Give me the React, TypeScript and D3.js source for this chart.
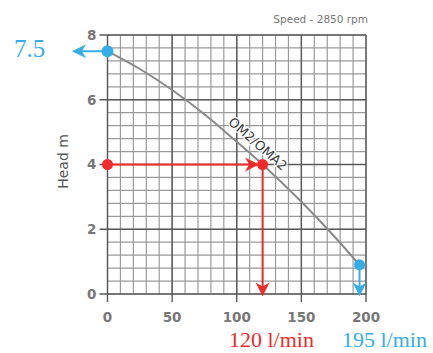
import * as d3 from "d3";
import React from 'react'

// pump curve OM2/OMA2
const flow = [0, 25, 50, 75, 100, 120, 150, 175, 195]
const head = [7.5, 6.95, 6.3, 5.55, 4.7, 4.0, 2.85, 1.8, 0.9]
const xTicks = [0, 50, 100, 150, 200]
const yTicks = [0, 2, 4, 6, 8]
const xMinor = d3.range(0, 201, 10)
const yMinor = d3.range(0, 8.01, 0.4)
const duty: [number, number] = [120, 4]
const shutoff: [number, number] = [0, 7.5]
const maxFlow: [number, number] = [195, 0.9]
const curveName = "OM2/OMA2"
const speedLabel = "Speed - 2850 rpm"
const yTitle = "Head m"
const dutyLabel = "120 l/min"
const maxLabel = "195 l/min"
const shutoffLabel = "7.5"

const RED = "#ef2b2b"
const BLUE = "#35aee8"
const GRID = "#9a9a9a"
const MAJOR = "#5a5a5a"
const TXT = "#777"

const App: React.FC = () => {
  const W = 433, H = 353
  const x = d3.scaleLinear([0, 200], [107.5, 366])
  const y = d3.scaleLinear([0, 8], [294, 35])

  const pts: [number, number][] = flow.map((f, i) => [f, head[i]])
  const line = d3.line<[number, number]>()
    .x(d => x(d[0]))
    .y(d => y(d[1]))
    .curve(d3.curveNatural)

  // label along the curve
  const lx = 110
  const interp = d3.scaleLinear(flow, head)
  const ang = Math.atan2(y(interp(lx + 8)) - y(interp(lx - 8)), x(lx + 8) - x(lx - 8)) * 180 / Math.PI

  const serif = "'Liberation Serif', 'Times New Roman', serif"
  const sans = "'DejaVu Sans', Verdana, sans-serif"

  return (
    <svg width={W} height={H} style={{ position: 'absolute', left: 0, top: 0, background: '#fff' }}>
      <defs>
        <marker id="arR" viewBox="0 0 10 10" refX="9" refY="5" markerWidth="7" markerHeight="7" orient="auto">
          <path d="M0,0 L10,5 L0,10 L3,5 z" fill={RED} />
        </marker>
        <marker id="arB" viewBox="0 0 10 10" refX="9" refY="5" markerWidth="7" markerHeight="7" orient="auto">
          <path d="M0,0 L10,5 L0,10 L3,5 z" fill={BLUE} />
        </marker>
      </defs>

      {/* minor grid */}
      {xMinor.map(v => (
        <line key={'xm' + v} x1={x(v)} x2={x(v)} y1={y(0)} y2={y(8)} stroke={GRID} strokeWidth={1.2} />
      ))}
      {yMinor.map(v => (
        <line key={'ym' + v} x1={x(0)} x2={x(200)} y1={y(v)} y2={y(v)} stroke={GRID} strokeWidth={1.2} />
      ))}
      {/* major grid + ticks */}
      {xTicks.map(v => (
        <line key={'xM' + v} x1={x(v)} x2={x(v)} y1={y(0) + 8} y2={y(8)} stroke={MAJOR} strokeWidth={1.4} />
      ))}
      {yTicks.map(v => (
        <line key={'yM' + v} x1={x(0) - 8} x2={x(200)} y1={y(v)} y2={y(v)} stroke={MAJOR} strokeWidth={1.4} />
      ))}

      {/* tick labels */}
      {xTicks.map(v => (
        <text key={'xl' + v} x={x(v)} y={322} textAnchor="middle" fontFamily={sans} fontWeight="bold" fontSize={13.5} fill={TXT}>{v}</text>
      ))}
      {yTicks.map(v => (
        <text key={'yl' + v} x={x(0) - 11} y={y(v)} dy="0.36em" textAnchor="end" fontFamily={sans} fontWeight="bold" fontSize={13.5} fill={TXT}>{v}</text>
      ))}
      <text transform={`translate(68,161.5) rotate(-90)`} textAnchor="middle" fontFamily={sans} fontSize={14} fill="#555">{yTitle}</text>
      <text x={368} y={23} textAnchor="end" fontFamily={sans} fontSize={10.5} fill={TXT}>{speedLabel}</text>

      {/* pump curve */}
      <path d={line(pts) || ""} fill="none" stroke="#8a8a8a" strokeWidth={2} />
      <text transform={`translate(${x(lx)},${y(interp(lx))}) rotate(${ang}) translate(0,-8)`}
        textAnchor="middle" fontFamily={sans} fontSize={13} fill="#3a3a3a"
        stroke="#fff" strokeWidth={2.5} paintOrder="stroke" strokeLinejoin="round">{curveName}</text>

      {/* duty point */}
      <line x1={x(0)} y1={y(duty[1])} x2={x(duty[0]) - 5} y2={y(duty[1])} stroke={RED} strokeWidth={2} markerEnd="url(#arR)" />
      <line x1={x(duty[0])} y1={y(duty[1])} x2={x(duty[0])} y2={y(0) + 1} stroke={RED} strokeWidth={2} markerEnd="url(#arR)" />
      <circle cx={x(0)} cy={y(duty[1])} r={5.5} fill={RED} />
      <circle cx={x(duty[0])} cy={y(duty[1])} r={5.5} fill={RED} />

      {/* shut-off head */}
      <line x1={x(shutoff[0])} y1={y(shutoff[1])} x2={x(shutoff[0]) - 34} y2={y(shutoff[1])} stroke={BLUE} strokeWidth={2} markerEnd="url(#arB)" />
      <circle cx={x(shutoff[0])} cy={y(shutoff[1])} r={6} fill={BLUE} />

      {/* max flow */}
      <line x1={x(maxFlow[0])} y1={y(maxFlow[1])} x2={x(maxFlow[0])} y2={y(0) + 1} stroke={BLUE} strokeWidth={2} markerEnd="url(#arB)" />
      <circle cx={x(maxFlow[0])} cy={y(maxFlow[1])} r={5.5} fill={BLUE} />

      {/* annotations */}
      <text x={14} y={57} fontFamily={serif} fontSize={25} fill={BLUE}>{shutoffLabel}</text>
      <text x={229} y={347} fontFamily={serif} fontSize={22} fill={RED}>{dutyLabel}</text>
      <text x={342} y={347} fontFamily={serif} fontSize={22} fill={BLUE}>{maxLabel}</text>
    </svg>
  )
}

export default App
